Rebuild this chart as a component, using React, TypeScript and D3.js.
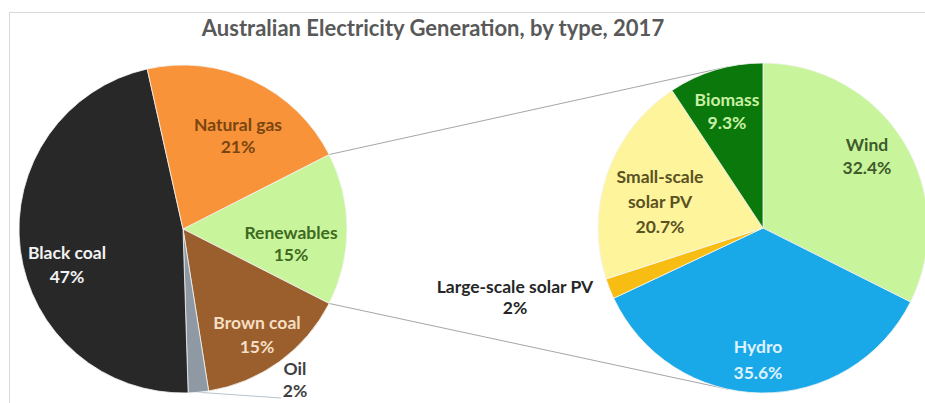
import React from "react";
import * as d3 from "d3";

const W = 925;
const H = 403;

// ---- Data ----
const mainCategories = ["Renewables", "Brown coal", "Oil", "Black coal", "Natural gas"];
const mainValues = [15, 15, 2, 47, 21];
const mainPctLabels = ["15%", "15%", "2%", "47%", "21%"];

const subCategories = ["Wind", "Hydro", "Large-scale solar PV", "Small-scale solar PV", "Biomass"];
const subValues = [32.4, 35.6, 2, 20.7, 9.3];
const subPctLabels = ["32.4%", "35.6%", "2%", "20.7%", "9.3%"];

const titleText = "Australian Electricity Generation, by type, 2017";

// ---- Styles / layout ----
const mainColors: Record<string, string> = {
  "Renewables": "#c8f59b",
  "Brown coal": "#9a5f2c",
  "Oil": "#8e99a3",
  "Black coal": "#282828",
  "Natural gas": "#f8933a",
};
const subColors: Record<string, string> = {
  "Wind": "#c8f59b",
  "Hydro": "#1aa9e8",
  "Large-scale solar PV": "#f7bd12",
  "Small-scale solar PV": "#fdf49c",
  "Biomass": "#0a780a",
};
const textColors: Record<string, string> = {
  "Renewables": "#3e6a1f",
  "Brown coal": "#f6dfc4",
  "Oil": "#404040",
  "Black coal": "#f2f2f2",
  "Natural gas": "#7a4510",
  "Wind": "#3f5a2c",
  "Hydro": "#dff2ff",
  "Large-scale solar PV": "#262626",
  "Small-scale solar PV": "#5a5222",
  "Biomass": "#c9f0a6",
};
const labelLines: Record<string, string[]> = {
  "Small-scale solar PV": ["Small-scale", "solar PV"],
};
// label anchor: [center x, first baseline y, line height]
const labelLayout: Record<string, [number, number, number]> = {
  "Natural gas": [238, 131, 22],
  "Renewables": [291, 239, 22],
  "Black coal": [67, 259, 24],
  "Brown coal": [257, 329, 24],
  "Oil": [295, 375, 22],
  "Biomass": [727, 106, 23],
  "Wind": [867, 151, 23],
  "Small-scale solar PV": [660, 183, 25],
  "Hydro": [758, 353, 26],
  "Large-scale solar PV": [515, 293, 21],
};

const FONT = "Lato, 'Open Sans', sans-serif";

const mainC = { x: 183, y: 229, r: 164 };
const subC = { x: 763, y: 228, r: 165 };

function tangentPoint(px: number, py: number, cx: number, cy: number, r: number, sign: number) {
  const dx = px - cx, dy = py - cy;
  const d = Math.hypot(dx, dy);
  const ux = dx / d, uy = dy / d;
  const th = sign * Math.acos(r / d);
  const c = Math.cos(th), s = Math.sin(th);
  return [cx + r * (c * ux - s * uy), cy + r * (s * ux + c * uy)];
}

export default function App() {
  const total = d3.sum(mainValues);
  const renewShare = mainValues[0] / total;
  const startMain = Math.PI / 2 - renewShare * Math.PI;

  const pieMain = d3.pie<number>().sort(null).startAngle(startMain).endAngle(startMain + 2 * Math.PI);
  const pieSub = d3.pie<number>().sort(null).startAngle(0).endAngle(2 * Math.PI);
  const arcsMain = pieMain(mainValues);
  const arcsSub = pieSub(subValues);

  const arcMain = d3.arc<d3.PieArcDatum<number>>().innerRadius(0).outerRadius(mainC.r);
  const arcSub = d3.arc<d3.PieArcDatum<number>>().innerRadius(0).outerRadius(subC.r);

  const rA = arcsMain[0];
  const p1 = [mainC.x + mainC.r * Math.sin(rA.startAngle), mainC.y - mainC.r * Math.cos(rA.startAngle)];
  const p2 = [mainC.x + mainC.r * Math.sin(rA.endAngle), mainC.y - mainC.r * Math.cos(rA.endAngle)];
  const t1 = tangentPoint(p1[0], p1[1], subC.x, subC.y, subC.r, 1);
  const t2 = tangentPoint(p2[0], p2[1], subC.x, subC.y, subC.r, -1);

  const oA = arcsMain[2];
  const oMid = (oA.startAngle + oA.endAngle) / 2;
  const oilPt = [mainC.x + mainC.r * Math.sin(oMid), mainC.y - mainC.r * Math.cos(oMid)];
  const oilLayout = labelLayout["Oil"];

  const renderLabel = (name: string, pct: string) => {
    const [x, y, lh] = labelLayout[name];
    const lines = [...(labelLines[name] || [name]), pct];
    return (
      <text key={"l-" + name} x={x} y={y} textAnchor="middle" fontFamily={FONT} fontWeight={700}
        fontSize={17.5} fill={textColors[name]}>
        {lines.map((t, i) => (
          <tspan key={i} x={x} y={y + i * lh}>{t}</tspan>
        ))}
      </text>
    );
  };

  return (
    <svg width={W} height={H} style={{ position: "absolute", left: 0, top: 0, background: "#fff" }}>
      <rect x={9.5} y={12.5} width={W + 20} height={H + 20} fill="#fff" stroke="#d9d9d9" strokeWidth={1} />
      <text x={433} y={36} textAnchor="middle" fontFamily={FONT} fontWeight={700} fontSize={22} fill="#595959">
        {titleText}
      </text>

      <line x1={p1[0]} y1={p1[1]} x2={t1[0]} y2={t1[1]} stroke="#a6a6a6" strokeWidth={1} />
      <line x1={p2[0]} y1={p2[1]} x2={t2[0]} y2={t2[1]} stroke="#a6a6a6" strokeWidth={1} />
      <line x1={oilPt[0]} y1={oilPt[1]} x2={oilLayout[0] - 14} y2={oilLayout[1] + 23} stroke="#b7c3cf" strokeWidth={1} />

      <g transform={`translate(${mainC.x},${mainC.y})`}>
        {arcsMain.map((a, i) => (
          <path key={mainCategories[i]} d={arcMain(a) || ""} fill={mainColors[mainCategories[i]]}
            stroke="#f4f4f4" strokeWidth={0.8} />
        ))}
      </g>
      <g transform={`translate(${subC.x},${subC.y})`}>
        {arcsSub.map((a, i) => (
          <path key={subCategories[i]} d={arcSub(a) || ""} fill={subColors[subCategories[i]]}
            stroke="#f4f4f4" strokeWidth={0.8} />
        ))}
      </g>

      {mainCategories.map((c, i) => renderLabel(c, mainPctLabels[i]))}
      {subCategories.map((c, i) => renderLabel(c, subPctLabels[i]))}
    </svg>
  );
}
